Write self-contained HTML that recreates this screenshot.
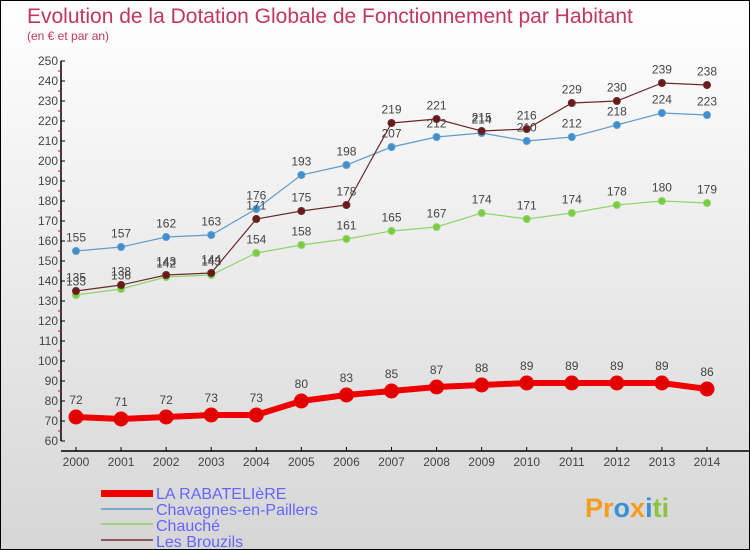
<!DOCTYPE html>
<html><head><meta charset="utf-8"><style>
body{margin:0}
#c{width:748px;height:548px;border:1px solid #000;background:linear-gradient(#fff,#d6d6d6);position:relative;font-family:"Liberation Sans",sans-serif;overflow:hidden}
</style></head><body>
<div id="c">
<svg width="748" height="548" id="s">
<text x="26" y="22" font-size="21" fill="#c2375f">Evolution de la Dotation Globale de Fonctionnement par Habitant</text>
<text x="26" y="39" font-size="12" fill="#c2375f">(en € et par an)</text>
<g id="axes"></g><g id="series"></g>
<g font-size="16" fill="#6464ff">
<rect x="100" y="489" width="52" height="7" fill="#e00"/>
<text x="155" y="498">LA RABATELIèRE</text>
<rect x="100" y="507" width="52" height="2" fill="#7ba9c8"/>
<text x="155" y="514">Chavagnes-en-Paillers</text>
<rect x="100" y="522" width="52" height="2" fill="#9ad57a"/>
<text x="155" y="530">Chauché</text>
<rect x="100" y="538" width="52" height="2" fill="#8c5a5a"/>
<text x="155" y="546">Les Brouzils</text>
</g>
<text x="584" y="516" font-size="27" font-weight="bold"><tspan fill="#f39c1e">Pr</tspan><tspan fill="#3b8fd6">o</tspan><tspan fill="#f39c1e">x</tspan><tspan fill="#3b8fd6">i</tspan><tspan fill="#8ac43f">ti</tspan></text>
</svg></div>
<script>
const years=[2000,2001,2002,2003,2004,2005,2006,2007,2008,2009,2010,2011,2012,2013,2014];
const rabateliere=[72,71,72,73,73,80,83,85,87,88,89,89,89,89,86];
const chavagnes=[155,157,162,163,176,193,198,207,212,214,210,212,218,224,223];
const chauche=[133,136,142,143,154,158,161,165,167,174,171,174,178,180,179];
const brouzils=[135,138,143,144,171,175,178,219,221,215,216,229,230,239,238];
const yTicks=[60,70,80,90,100,110,120,130,140,150,160,170,180,190,200,210,220,230,240,250];
const NS="http://www.w3.org/2000/svg";
const xs=i=>75+i*(706-75)/(years.length-1);
const ys=v=>60+(250-v)*2;
function mk(t,a,p){const e=document.createElementNS(NS,t);for(const k in a)e.setAttribute(k,a[k]);p.appendChild(e);return e;}
const ax=document.getElementById('axes');
let l=mk('line',{x1:60,y1:ys(250),x2:60,y2:ys(60),stroke:'#000','stroke-width':1.5},ax);


yTicks.forEach(v=>{
 mk('line',{x1:60,y1:ys(v),x2:64,y2:ys(v),stroke:'#000'},ax);
 if(v<250)mk('line',{x1:57,y1:ys(v+5),x2:60,y2:ys(v+5),stroke:'#e00'},ax);
 const t=mk('text',{x:57,y:ys(v)+4,'font-size':12,fill:'#444','text-anchor':'end'},ax);
 
 
 t.textContent=v;
});
l=mk('line',{x1:60,y1:450,x2:748,y2:450,stroke:'#000','stroke-width':1.5},ax);


years.forEach((y,i)=>{
 mk('line',{x1:xs(i),y1:446,x2:xs(i),y2:450,stroke:'#000'},ax);
 const t=mk('text',{x:xs(i),y:465,'font-size':12,fill:'#444','text-anchor':'middle'},ax);
 
 
 t.textContent=y;
});
const sg=document.getElementById('series');
function draw(name,data,color,dot,w,r){
 const g=mk('g',{},sg);
 
 
 const pl=mk('polyline',{points:data.map((v,i)=>xs(i)+','+ys(v)).join(' '),fill:'none',stroke:color,'stroke-width':w},g);
 
 
 data.forEach((v,i)=>{
  const c=mk('circle',{cx:xs(i),cy:ys(v),r:r,fill:dot,stroke:color,'stroke-width':1},g);
  
  
  const t=mk('text',{x:xs(i),y:ys(v)-r-6,'font-size':12,fill:'#444','text-anchor':'middle'},g);
  
  
  t.textContent=v;
 });
}
draw('chavagnes',chavagnes,'#5e9ccc','#3d8fd0',1.2,3.5);
draw('chauche',chauche,'#8fd46a','#7acc3f',1.2,3.5);
draw('brouzils',brouzils,'#6a2a2a','#6b1a1a',1.2,3.5);
draw('rabateliere',rabateliere,'#ee0000','#e00000',6,7);
</script>
</body></html>
